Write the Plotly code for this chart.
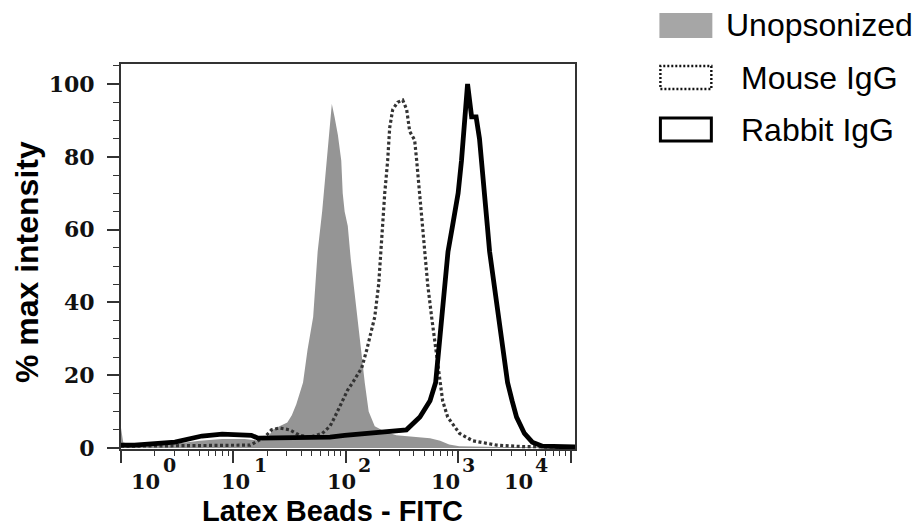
import plotly.graph_objects as go

# ---------------- data (x in log10 FITC units, y in % max) ----------------
unops_log10 = [0.000, 0.02, 0.12, 0.48, 0.70, 0.90, 1.10, 1.24, 1.31, 1.35, 1.41, 1.48,
               1.52, 1.56, 1.62, 1.66, 1.71, 1.75, 1.79, 1.83, 1.86, 1.876, 1.90, 1.93,
               1.96, 1.973, 1.99, 2.018, 2.044, 2.071, 2.107, 2.14, 2.169, 2.204, 2.258,
               2.35, 2.45, 2.61, 2.75, 2.84, 2.92, 3.01, 3.37, 4.04]
unops_pct = [5.5, 1.5, 0.8, 1.2, 2.0, 2.5, 2.5, 2.0, 3.0, 5.0, 6.0, 7.0,
             9.0, 12, 18, 27, 36, 54, 65, 79, 88, 94.5, 91, 86,
             79, 70, 65, 61, 52, 45, 36, 26, 18, 10, 6,
             4.5, 3.5, 3.0, 2.7, 2.0, 1.0, 0.5, 0.3, 0.2]

mouse_log10 = [0.00, 0.48, 1.15, 1.28, 1.34, 1.41, 1.50, 1.59, 1.68, 1.79, 1.86, 1.902,
               1.973, 2.018, 2.062, 2.142, 2.187, 2.258, 2.293, 2.311, 2.324, 2.347, 2.373,
               2.391, 2.418, 2.462, 2.507, 2.542, 2.569, 2.613, 2.631, 2.658, 2.684, 2.707,
               2.729, 2.764, 2.800, 2.836, 2.862, 2.907, 3.013, 3.129, 3.342, 3.573, 4.04]
mouse_pct = [0.5, 0.6, 0.8, 3, 5, 5.5, 5, 3.5, 3, 4, 6, 8.5,
             13, 16, 18, 22, 27, 36, 45, 54, 61, 70, 79,
             88, 93, 95, 95.6, 93, 87, 84.6, 79, 70, 61, 54,
             45, 36, 27, 18, 13, 8.5, 4, 2, 0.8, 0.4, 0.2]

rabbit_log10 = [0.00, 0.12, 0.48, 0.63, 0.72, 0.90, 1.10, 1.16, 1.22, 1.43, 1.72, 1.86,
                1.99, 2.15, 2.35, 2.54, 2.66, 2.75, 2.80, 2.83, 2.85, 2.88, 2.91, 2.95,
                3.00, 3.03, 3.06, 3.084, 3.12, 3.16, 3.19, 3.21, 3.24, 3.26, 3.28, 3.32,
                3.37, 3.40, 3.44, 3.48, 3.52, 3.59, 3.66, 3.75, 4.04]
rabbit_pct = [0.8, 0.8, 1.6, 2.5, 3.3, 3.8, 3.8, 3.5, 2.7, 2.7, 2.7, 3.0,
              3.5, 4.0, 4.5, 5.0, 8.5, 13, 18, 27, 36, 45, 54, 61,
              70, 79, 93, 100, 91, 91, 85, 79, 70, 61, 54, 45,
              36, 27, 18, 13, 8.5, 4, 1.6, 0.5, 0.3]

series_names = ["Unopsonized", "Mouse IgG", "Rabbit IgG"]
x_major_ticks = [1, 10, 100, 1000, 10000]
x_tick_base = ["10", "10", "10", "10", "10"]
x_tick_exp = ["0", "1", "2", "3", "4"]
y_ticks = [0, 20, 40, 60, 80, 100]

# ---------------- layout geometry (screen pixels of the reference) ----------------
W, H = 920, 529
OFF = 8  # default page body margin in the written html
L, R, T, B = 121, 575.5, 64, 449


def px(xp):
    return (xp - L) / (R - L)


def py(yp):
    return (B - yp) / (B - T)


def tolin(vals):
    return [10 ** v for v in vals]


fig = go.Figure()
fig.add_trace(go.Scatter(x=tolin(unops_log10), y=unops_pct, mode="lines",
                         line=dict(width=0, color="#959595"), fill="tozeroy",
                         fillcolor="#959595", name=series_names[0], showlegend=False))
fig.add_trace(go.Scatter(x=tolin(mouse_log10), y=mouse_pct, mode="lines",
                         line=dict(width=3.2, color="#333333", dash="3px,2.5px"),
                         name=series_names[1], showlegend=False))
fig.add_trace(go.Scatter(x=tolin(rabbit_log10), y=rabbit_pct, mode="lines",
                         line=dict(width=4.8, color="#000000"),
                         name=series_names[2], showlegend=False))

minor_x = [m * 10 ** k for k in range(4) for m in range(2, 10)]

fig.update_xaxes(type="log", range=[0, 4.04], showgrid=False, zeroline=False,
                 showline=True, linecolor="#333333", linewidth=2, mirror=True,
                 ticks="outside", ticklen=12, tickwidth=1.6, tickcolor="#333333",
                 tickmode="array", tickvals=x_major_ticks, showticklabels=False,
                 minor=dict(tickmode="array", tickvals=minor_x, ticks="outside",
                            ticklen=5, tickwidth=1.3, tickcolor="#333333"))
fig.update_yaxes(range=[-0.27, 105.5], showgrid=False, zeroline=False,
                 showline=True, linecolor="#333333", linewidth=2, mirror=True,
                 ticks="outside", ticklen=12, tickwidth=1.6, tickcolor="#333333",
                 tickmode="array", tickvals=y_ticks, ticktext=[str(v) for v in y_ticks],
                 ticklabelstandoff=8,
                 tickfont=dict(family="DejaVu Serif", size=22, color="#111111", weight="bold"),
                 minor=dict(dtick=5, ticks="outside", ticklen=6, tickwidth=1.3,
                            tickcolor="#333333"))

ann = []
serif = dict(family="DejaVu Serif", size=21, color="#111111", weight="bold")
serif_sup = dict(family="DejaVu Serif", size=19, color="#111111", weight="bold")
base_x = [146, 236, 342, 446, 519]
exp_x = [170, 261, 365, 469, 542]
for bx, ex, bt, et in zip(base_x, exp_x, x_tick_base, x_tick_exp):
    ann.append(dict(text=bt, x=px(bx), y=py(482), xref="paper", yref="paper",
                    xanchor="center", yanchor="middle", showarrow=False, font=serif))
    ann.append(dict(text=et, x=px(ex), y=py(465), xref="paper", yref="paper",
                    xanchor="center", yanchor="middle", showarrow=False, font=serif_sup))

# axis titles
ann.append(dict(text="Latex Beads - FITC", x=px(333), y=py(511), xref="paper", yref="paper",
                xanchor="center", yanchor="middle", showarrow=False,
                font=dict(family="Liberation Sans", size=29, color="#000000", weight="bold")))
ann.append(dict(text="% max intensity", x=px(27), y=py(262), xref="paper", yref="paper",
                xanchor="center", yanchor="middle", showarrow=False, textangle=-90,
                font=dict(family="Liberation Sans", size=32, color="#000000", weight="bold")))

# legend
leg_font = dict(family="Liberation Sans", size=32, color="#000000")
ann.append(dict(text=series_names[0], x=px(725), y=py(25), xref="paper", yref="paper",
                xanchor="left", yanchor="middle", showarrow=False, font=leg_font))
ann.append(dict(text=series_names[1], x=px(740), y=py(78), xref="paper", yref="paper",
                xanchor="left", yanchor="middle", showarrow=False, font=leg_font))
ann.append(dict(text=series_names[2], x=px(740), y=py(130), xref="paper", yref="paper",
                xanchor="left", yanchor="middle", showarrow=False, font=leg_font))

shapes = [
    dict(type="rect", xref="paper", yref="paper", x0=px(660), x1=px(713), y0=py(38), y1=py(13),
         fillcolor="#a6a6a6", line=dict(width=0)),
    dict(type="rect", xref="paper", yref="paper", x0=px(661), x1=px(712), y0=py(89), y1=py(66),
         fillcolor="rgba(0,0,0,0)", line=dict(width=2.4, color="#111111", dash="2px,2px")),
    dict(type="rect", xref="paper", yref="paper", x0=px(661), x1=px(712), y0=py(141), y1=py(118),
         fillcolor="rgba(0,0,0,0)", line=dict(width=3, color="#000000")),
]

fig.update_layout(width=W, height=H,
                  margin=dict(l=L - OFF, r=W - R + OFF, t=T - OFF, b=H - B + OFF),
                  paper_bgcolor="white", plot_bgcolor="white",
                  annotations=ann, shapes=shapes, showlegend=False)

fig.write_html("out.html")
